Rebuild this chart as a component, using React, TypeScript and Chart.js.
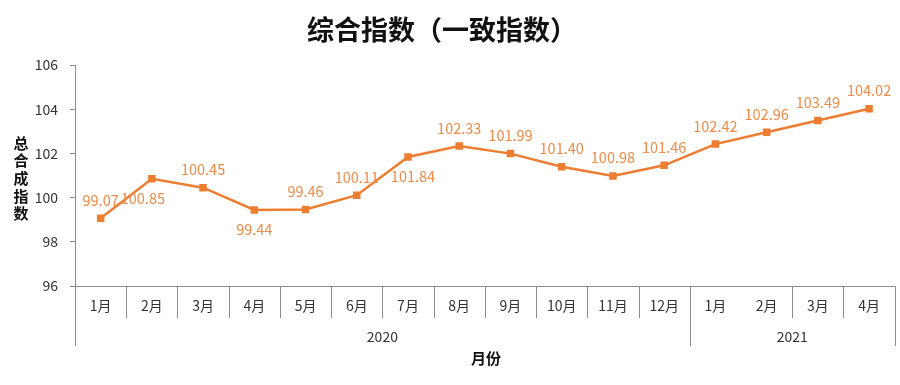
import React, { useEffect, useRef } from "react";
import { Chart, registerables } from "chart.js";
Chart.register(...registerables);

const chartTitle = "综合指数（一致指数）";
const yAxisTitle = "总合成指数";
const xAxisTitle = "月份";
const months = ["1月", "2月", "3月", "4月", "5月", "6月", "7月", "8月", "9月", "10月", "11月", "12月", "1月", "2月", "3月", "4月"];
const years = ["2020", "2021"];
const yearSpans = [12, 4];
const values = [99.07, 100.85, 100.45, 99.44, 99.46, 100.11, 101.84, 102.33, 101.99, 101.4, 100.98, 101.46, 102.42, 102.96, 103.49, 104.02];
const yMin = 96;
const yMax = 106;
const yStep = 2;
// label placement style: indices whose value label sits below the point, with small horizontal nudges
const labelsBelow = [1, 3, 6];
const labelNudgeX: Record<number, number> = { 1: -9, 6: 5 };
// separator omitted in the reference between these month indices (i -> i+1)
const missingSeparators = [13];

const ORANGE = "#ED7D31";
const LABEL = "#F08A44";
const AXIS = "#8c8c8c";
const TEXT = "#333333";
const FONT = "'Noto Sans CJK SC', 'Noto Sans', sans-serif";

const drawPlugin = {
  id: "customDraw",
  afterDraw(chart: any) {
    const ctx = chart.ctx as CanvasRenderingContext2D;
    const x = chart.scales.x;
    const y = chart.scales.y;
    const area = chart.chartArea;
    const bottom = area.bottom;
    const left = area.left;
    const right = area.right;
    const n = months.length;
    const step = (right - left) / n;
    ctx.save();

    // title
    ctx.fillStyle = "#111";
    ctx.font = `bold 27px ${FONT}`;
    ctx.textAlign = "center";
    ctx.textBaseline = "middle";
    ctx.fillText(chartTitle, 442, 30);

    // y title, vertical stacked
    ctx.font = `bold 15px ${FONT}`;
    ctx.fillStyle = "#111";
    const chars = Array.from(yAxisTitle);
    chars.forEach((c, i) => {
      ctx.fillText(c, 21, 143 + i * 17.6);
    });

    // x axis lines
    ctx.strokeStyle = AXIS;
    ctx.lineWidth = 1;
    ctx.beginPath();
    ctx.moveTo(left, bottom + 0.5);
    ctx.lineTo(right, bottom + 0.5);
    ctx.stroke();

    const monthRowBottom = bottom + 32;
    const yearRowBottom = bottom + 60;
    let boundary = 0;
    const yearBounds: number[] = [0];
    yearSpans.forEach((s) => {
      boundary += s;
      yearBounds.push(boundary);
    });
    for (let i = 0; i <= n; i++) {
      const px = Math.round(left + i * step) + 0.5;
      const isYear = yearBounds.includes(i);
      if (!isYear && missingSeparators.includes(i)) continue;
      ctx.beginPath();
      ctx.moveTo(px, bottom);
      ctx.lineTo(px, isYear ? yearRowBottom : monthRowBottom);
      ctx.stroke();
    }

    // month labels
    ctx.fillStyle = TEXT;
    ctx.font = `14px ${FONT}`;
    months.forEach((m, i) => {
      ctx.fillText(m, x.getPixelForValue(i), bottom + 20);
    });
    // year labels
    years.forEach((yr, i) => {
      const a = left + yearBounds[i] * step;
      const b = left + yearBounds[i + 1] * step;
      ctx.fillText(yr, (a + b) / 2, bottom + 51);
    });

    // x title
    ctx.font = `bold 15px ${FONT}`;
    ctx.fillStyle = "#111";
    ctx.fillText(xAxisTitle, 486, bottom + 72);

    // data labels
    ctx.font = `14.5px ${FONT}`;
    ctx.fillStyle = LABEL;
    values.forEach((v, i) => {
      const px = x.getPixelForValue(i) + (labelNudgeX[i] || 0);
      const py = y.getPixelForValue(v);
      const below = labelsBelow.includes(i);
      ctx.fillText(v.toFixed(2), px, below ? py + 20 : py - 18);
    });
    ctx.restore();
  },
};

export default function App() {
  const ref = useRef<HTMLCanvasElement | null>(null);
  useEffect(() => {
    document.body.style.margin = "0";
    if (!ref.current) return;
    const chart = new Chart(ref.current, {
      type: "line",
      data: {
        labels: months,
        datasets: [
          {
            data: values,
            borderColor: ORANGE,
            backgroundColor: ORANGE,
            borderWidth: 2.5,
            pointStyle: "rect",
            pointRadius: 5.3,
            pointBorderWidth: 0,
            pointBackgroundColor: ORANGE,
            tension: 0,
          },
        ],
      },
      options: {
        responsive: false,
        animation: false,
        devicePixelRatio: 1,
        layout: { padding: { left: 0, top: 65, right: 2, bottom: 99 } },
        plugins: { legend: { display: false }, tooltip: { enabled: false }, title: { display: false } },
        scales: {
          x: { type: "category", offset: true, display: false },
          y: {
            min: yMin,
            max: yMax,
            afterFit: (s: any) => {
              s.width = 75;
            },
            ticks: {
              stepSize: yStep,
              color: TEXT,
              padding: 12,
              font: { size: 14, family: FONT },
            },
            grid: { drawOnChartArea: false, drawTicks: true, tickLength: 5, color: AXIS },
            border: { display: true, color: AXIS },
          },
        },
      },
      plugins: [drawPlugin],
    });
    return () => chart.destroy();
  }, []);
  return (
    <div style={{ position: "absolute", left: 0, top: 0, width: 900, height: 385, background: "#fff" }}>
      <canvas ref={ref} width={900} height={385} />
    </div>
  );
}
